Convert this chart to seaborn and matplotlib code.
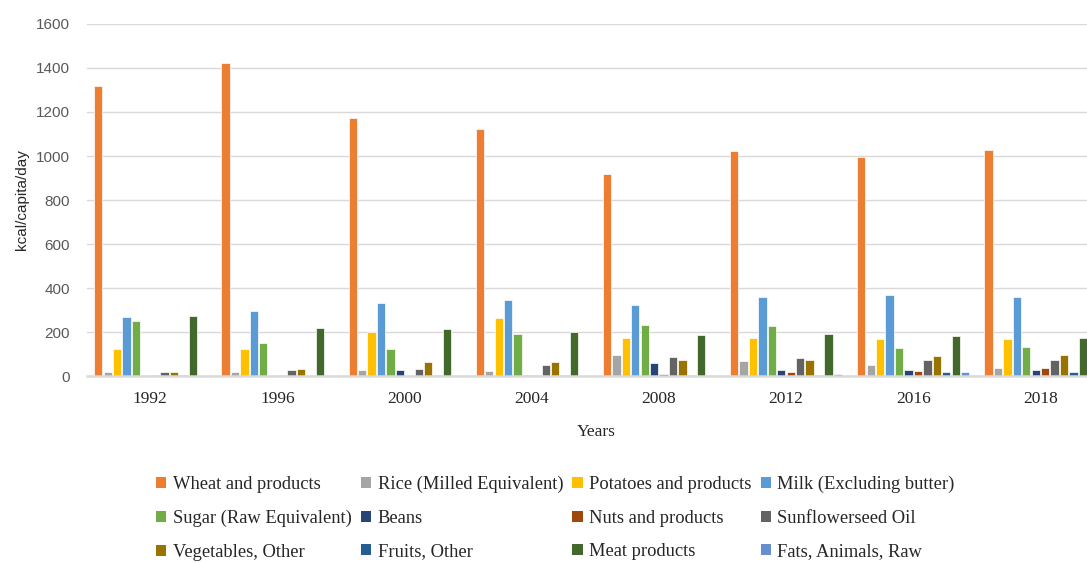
import numpy as np
import pandas as pd
import seaborn as sns
import matplotlib.pyplot as plt
from matplotlib.patches import Patch

years = ['1992', '1996', '2000', '2004', '2008', '2012', '2016', '2018']
foods = ['Wheat and products', 'Rice (Milled Equivalent)', 'Potatoes and products',
         'Milk (Excluding butter)', 'Sugar (Raw Equivalent)', 'Beans',
         'Nuts and products', 'Sunflowerseed Oil', 'Vegetables, Other',
         'Fruits, Other', 'Meat products', 'Fats, Animals, Raw']

# kcal/capita/day
wheat = [1320, 1424, 1171, 1124, 918, 1023, 997, 1027]
rice = [18, 18, 27, 21, 95, 69, 48, 37]
potatoes = [123, 123, 199, 266, 175, 175, 170, 170]
milk = [267, 297, 334, 345, 323, 361, 366, 361]
sugar = [252, 150, 123, 192, 233, 229, 128, 134]
beans = [0, 0, 27, 6, 60, 27, 27, 27]
nuts = [6, 6, 0, 6, 11, 18, 22, 37]
sunflower = [18, 29, 34, 49, 87, 81, 75, 75]
vegetables = [18, 34, 64, 64, 75, 75, 91, 96]
fruits = [6, 0, 6, 6, 6, 6, 18, 18]
meat = [272, 219, 213, 202, 187, 192, 181, 173]
fats = [0, 0, 0, 0, 0, 11, 18, 18]

colors = ['#ED7D31', '#A5A5A5', '#FFC000', '#5B9BD5', '#70AD47', '#264478',
          '#9E480E', '#636363', '#997300', '#255E91', '#43682B', '#698ED0']

series = [wheat, rice, potatoes, milk, sugar, beans, nuts, sunflower,
          vegetables, fruits, meat, fats]
rows = []
for food, vals in zip(foods, series):
    for yr, v in zip(years, vals):
        rows.append({'Year': yr, 'Food': food, 'kcal': v})
df = pd.DataFrame(rows)

sns.set_style('white')
plt.rcParams['font.family'] = ['Liberation Sans', 'DejaVu Sans']

fig = plt.figure(figsize=(10.87, 5.63), dpi=100)
ax = fig.add_axes([0.0797, 0.3321, 0.9359, 0.6253])

sns.barplot(data=df, x='Year', y='kcal', hue='Food', order=years, hue_order=foods,
            palette=colors, saturation=1, width=0.89, gap=0.12,
            edgecolor='white', linewidth=0.5, legend=False, ax=ax)

ax.set_ylim(0, 1600)
ax.set_xlim(-0.5, 7.5)
ax.set_yticks(range(0, 1601, 200))
ax.yaxis.grid(True, color='#D9D9D9', linewidth=1)
ax.set_axisbelow(True)
for s in ['top', 'right', 'left']:
    ax.spines[s].set_visible(False)
ax.spines['bottom'].set_color('#D9D9D9')
ax.spines['bottom'].set_linewidth(1.8)
ax.tick_params(axis='both', length=0)
ax.tick_params(axis='y', pad=12, labelsize=11, labelcolor='#595959')
ax.tick_params(axis='x', pad=10.5)
for t in ax.get_xticklabels():
    t.set_family('Liberation Serif')
    t.set_fontsize(12.5)
    t.set_color('#262626')

ax.set_ylabel('kcal/capita/day', fontsize=11, color='#262626', labelpad=5)
ax.set_xlabel('Years', family='Liberation Serif', fontsize=12.5, color='#262626')
ax.xaxis.set_label_coords((596 - 86.6) / (1104 - 86.6), -0.135)

handles = [Patch(facecolor=c, edgecolor='none') for c in colors]
order = [0, 4, 8, 1, 5, 9, 2, 6, 10, 3, 7, 11]
fig.legend([handles[i] for i in order], [foods[i] for i in order],
           ncol=4, loc='upper center', bbox_to_anchor=(0.511, 0.168),
           frameon=False, prop={'family': 'Liberation Serif', 'size': 13.3},
           handlelength=0.55, handleheight=0.55, handletextpad=0.35,
           columnspacing=0.5, labelspacing=0.9, labelcolor='#262626',
           borderaxespad=0)

fig.savefig('out.png', dpi=100)
